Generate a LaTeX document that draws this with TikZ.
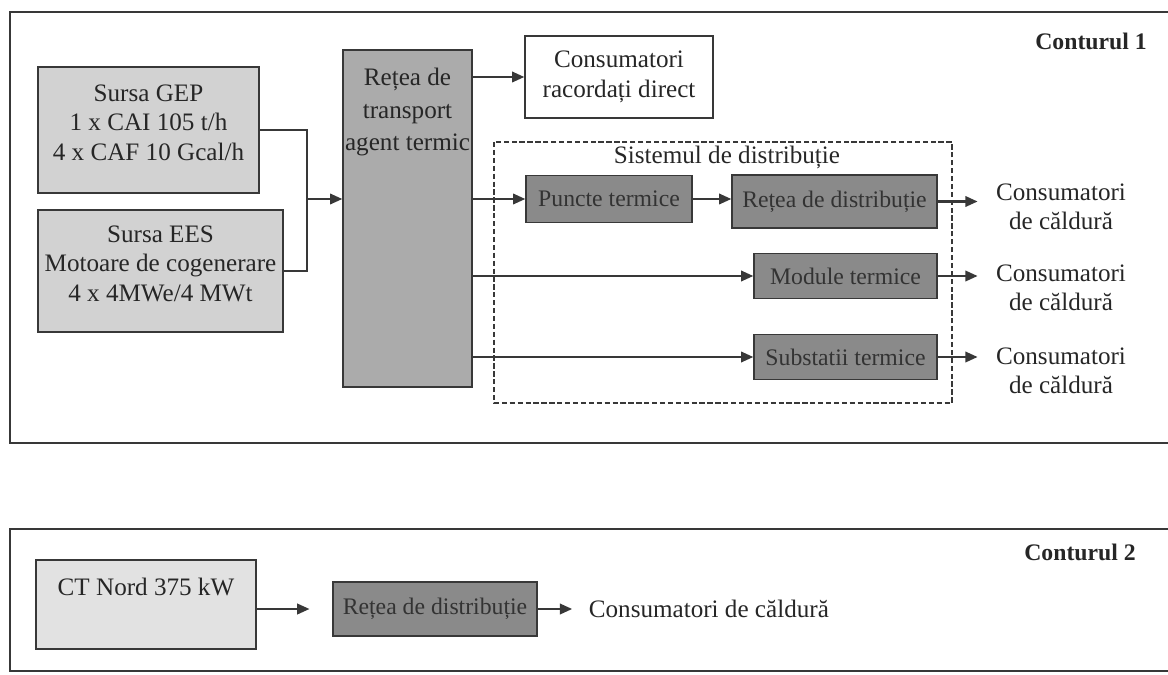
\documentclass[tikz,border=0pt]{standalone}
\usepackage{fontspec}
\setmainfont{Liberation Serif}
\usetikzlibrary{positioning,arrows.meta}
\definecolor{srcgray}{HTML}{D2D2D2}
\definecolor{netgray}{HTML}{ABABAB}
\definecolor{distgray}{HTML}{8A8A8A}
\definecolor{ctgray}{HTML}{E2E2E2}
\definecolor{linegray}{HTML}{383838}

\begin{document}
\begin{tikzpicture}[x=0.02cm, y=-0.02cm,
    every node/.style={font=\fontsize{14.3}{16.8}\selectfont, text=black!85},
    block/.style={rectangle, draw=linegray, line width=0.8pt, align=center, inner sep=2pt},
    source/.style={block, fill=srcgray},
    distbox/.style={block, fill=distgray, text=black!80, font=\fontsize{13.5}{16}\selectfont},
    frame/.style={draw=linegray, line width=1.5pt},
    arrow/.style={-{Triangle[length=7pt,width=6pt]}, line width=1.2pt, linegray},
    consum/.style={align=center},
    title/.style={font=\fontsize{13.5}{16.5}\selectfont\bfseries}
]
\clip (0,0) rectangle (1168,675);
\useasboundingbox (0,0) rectangle (1168,675);

% Frames
\draw[frame] (10,12) rectangle (1185,443);
\draw[frame] (10,529) rectangle (1185,671);
\node[title] (cont1) at (1091,41) {Conturul 1};
\node[title] (cont2) at (1080,552) {Conturul 2};

% Sources
\node[source, minimum width=4.42cm, minimum height=2.52cm] (gep) at (148.5,130)
    {Sursa GEP\\1 x CAI 105 t/h\\4 x CAF 10 Gcal/h\\[-8pt]};
\node[source, minimum width=4.90cm, minimum height=2.44cm] (ees) at (160.5,271)
    {Sursa EES\\Motoare de cogenerare\\4 x 4MWe/4 MWt\\[-8pt]};

% Transport network
\node[block, fill=netgray, minimum width=2.58cm, minimum height=6.74cm] (transport) at (407.5,218.5) {};
\node[align=center, below=0.26cm of transport.north] (transporttext) {Rețea de\\[1.5pt]transport\\[1.5pt]agent termic};

\node[block, fill=white, minimum width=3.76cm, minimum height=1.64cm] (direct) at (619,77)
    {Consumatori\\racordați direct};

% Distribution system
\draw[linegray, line width=0.9pt, dash pattern=on 3pt off 1.5pt] (494,142) rectangle (952,403);
\node (sistem) at (727,157) {Sistemul de distribuție};
\node[distbox, minimum width=3.32cm, minimum height=0.94cm] (puncte) at (609,199) {Puncte termice};
\node[distbox, minimum width=4.10cm, minimum height=1.06cm] (retea) at (834.5,201.5) {Rețea de distribuție};
\node[distbox, minimum width=3.66cm, minimum height=0.90cm] (module) at (845.5,276) {Module termice};
\node[distbox, minimum width=3.66cm, minimum height=0.90cm] (subst) at (845.5,357) {Substatii termice};

\node[consum] (cons1) at (1061,207) {Consumatori\\de căldură};
\node[consum] (cons2) at (1061,288) {Consumatori\\de căldură};
\node[consum] (cons3) at (1061,371) {Consumatori\\de căldură};

% Contour 2
\node[source, fill=ctgray, minimum width=4.40cm, minimum height=1.78cm] (ctnord) at (146,604.5) {};
\node[below=0.26cm of ctnord.north] (ctnordtext) {CT Nord 375 kW};
\node[distbox, minimum width=4.08cm, minimum height=1.08cm] (retea2) at (435,609) {Rețea de distribuție};
\node[right=0.9cm of retea2.east] (cons4) {Consumatori de căldură};

% Arrows
\coordinate (jn) at (307,199);
\draw[linegray, line width=1.2pt] (gep.east) -| (jn);
\draw[linegray, line width=1.2pt] (ees.east) -| (jn);
\draw[arrow] (jn) -- (jn -| transport.west);
\draw[arrow] (transport.east |- direct) -- (direct.west);
\draw[arrow] (transport.east |- puncte) -- (puncte.west);
\draw[arrow] (puncte.east) -- (puncte.east -| retea.west);
\draw[arrow] (transport.east |- module) -- (module.west);
\draw[arrow] (transport.east |- subst) -- (subst.west);
\draw[arrow, shorten >=7pt] (retea.east) -- (retea.east -| cons1.west);
\draw[arrow, shorten >=7pt] (module.east) -- (module.east -| cons2.west);
\draw[arrow, shorten >=7pt] (subst.east) -- (subst.east -| cons3.west);
\draw[arrow, shorten >=13pt] (ctnord.east |- retea2) -- (retea2.west);
\draw[arrow, shorten >=6pt] (retea2.east) -- (retea2.east -| cons4.west);

\end{tikzpicture}
\end{document}
